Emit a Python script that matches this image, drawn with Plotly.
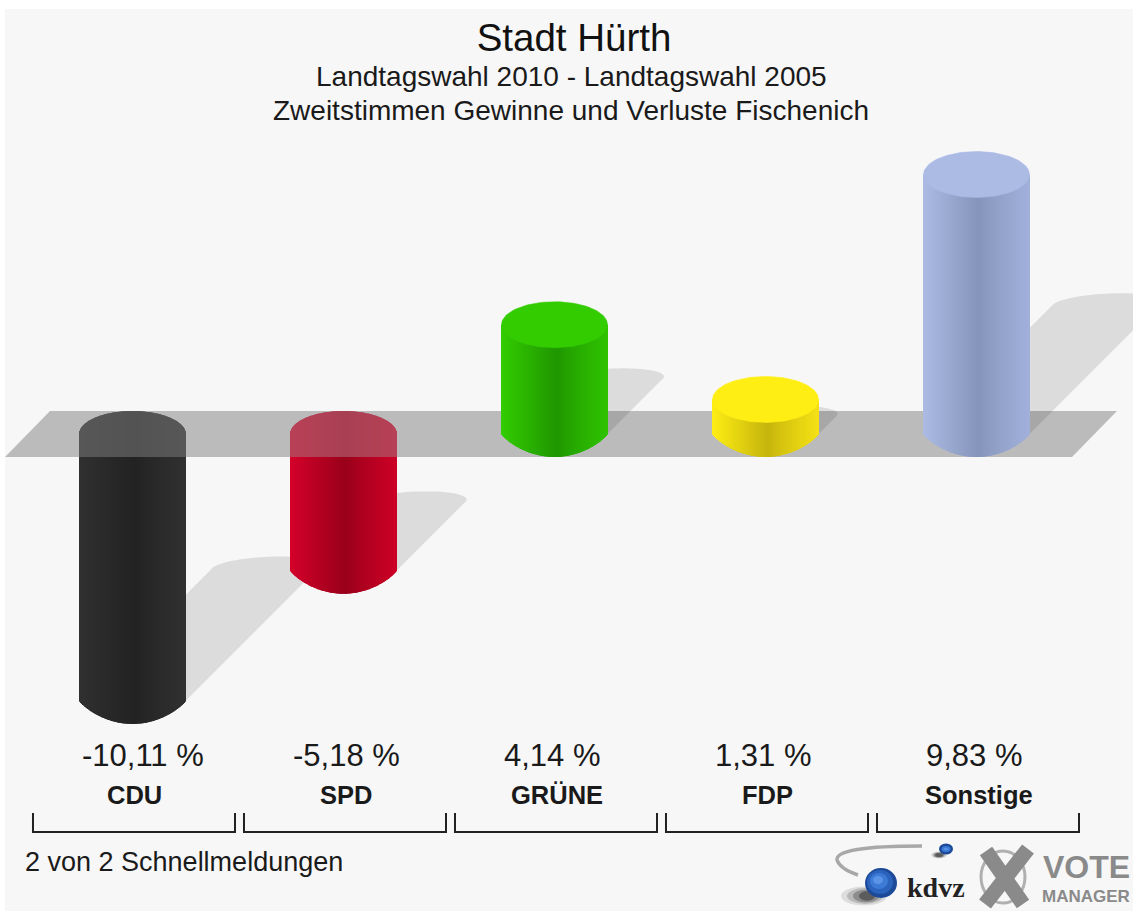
import numpy as np
import plotly.graph_objects as go

# ---- data ----
categories = ["CDU", "SPD", "GRÜNE", "FDP", "Sonstige"]
values = [-10.11, -5.18, 4.14, 1.31, 9.83]
value_labels = ["-10,11 %", "-5,18 %", "4,14 %", "1,31 %", "9,83 %"]
edge_left = ["#303030", "#d4002a", "#33cc00", "#ffee14", "#abbbe4"]
edge_dark = ["#222222", "#98001a", "#1f9600", "#c4b40c", "#8494b9"]
edge_right = ["#303030", "#cc0026", "#2fc200", "#f4e014", "#a0b0da"]
cap_colors = ["#555555", "#b04055", "#33cc00", "#ffee14", "#abbbe4"]

title_text = "Stadt Hürth"
subtitle_1 = "Landtagswahl 2010 - Landtagswahl 2005"
subtitle_2 = "Zweitstimmen Gewinne und Verluste Fischenich"
footer_text = "2 von 2 Schnellmeldungen"

# ---- page geometry ----
W, H = 1133, 911
X0, DX = 132.5, 211.0      # first category pixel, category spacing
Y0, DY = 434.0, 26.4       # zero line pixel, pixels per percent
L, T = 5, 9                # white edge of the picture


def fx(px):
    return (np.asarray(px, dtype=float) - X0) / DX


def fy(py):
    return (Y0 - np.asarray(py, dtype=float)) / DY


RX = 53.0 / DX   # half bar width, category units
RY = 23.0 / DY   # ellipse half height, percent units
STRIPS = 106


def rgb(h):
    return np.array([int(h[i:i + 2], 16) for i in (1, 3, 5)], dtype=float)


def to_hex(c):
    return "#%02x%02x%02x" % tuple(int(round(v)) for v in np.clip(c, 0, 255))


def gradient(u, left, dark, right):
    a, b, c = rgb(left), rgb(dark), rgb(right)
    pivot = 0.06
    if u < pivot:
        t = (u + 1) / (pivot + 1)
        return a + (b - a) * t
    t = (u - pivot) / (1 - pivot)
    return b + (c - b) * t ** 0.8


us = (np.arange(STRIPS) + 0.5) / STRIPS * 2 - 1
arc = np.sqrt(1 - us ** 2)
arc_low = (1 - us ** 2) ** 0.85   # lower rim has slight corners at the sides

fig = go.Figure()

# cylinder bodies: each bar is a row of thin strips on the value axis
for i, (val, cat) in enumerate(zip(values, categories)):
    xs = i + us * RX
    cols = [gradient(u, edge_left[i], edge_dark[i], edge_right[i]) for u in us]
    if val >= 0:
        base = -RY * arc_low
        top = np.full(STRIPS, val)
        fig.add_trace(go.Bar(x=xs, y=top - base, base=base, width=2 * RX / STRIPS,
                             marker=dict(color=[to_hex(c) for c in cols], line=dict(width=0)),
                             name=cat, hoverinfo="skip", showlegend=False))
        t = np.linspace(0, 2 * np.pi, 121)
        fig.add_trace(go.Scatter(x=i + RX * np.cos(t), y=val + RY * np.sin(t), mode="lines",
                                 fill="toself", fillcolor=cap_colors[i],
                                 line=dict(color=cap_colors[i], width=0.5),
                                 hoverinfo="skip", showlegend=False))
    else:
        # part below the band
        base = val - RY * arc_low
        top = np.full(STRIPS, -RY)
        fig.add_trace(go.Bar(x=xs, y=top - base, base=base, width=2 * RX / STRIPS,
                             marker=dict(color=[to_hex(c) for c in cols], line=dict(width=0)),
                             name=cat, hoverinfo="skip", showlegend=False))
        # part seen through the translucent band
        mean = np.mean(cols, axis=0)
        blended = [to_hex(rgb(cap_colors[i]) + (c - mean) * 0.3) for c in cols]
        base2 = np.full(STRIPS, -RY)
        top2 = RY * arc
        fig.add_trace(go.Bar(x=xs, y=top2 - base2, base=base2, width=2 * RX / STRIPS,
                             marker=dict(color=blended, line=dict(width=0)),
                             name=cat, hoverinfo="skip", showlegend=False))

shapes = []

# grey zero band
band = [(fx(5), -RY), (fx(50), RY), (fx(1117), RY), (fx(1072), -RY)]
shapes.append(dict(type="path", layer="below", xref="x", yref="y", line=dict(width=0),
                   fillcolor="#bbbbbb",
                   path="M" + " L".join(f"{a:.4f},{b:.4f}" for a, b in band) + " Z"))

# cast shadows, derived from the values
for i, val in enumerate(values):
    shift_px = abs(val) * DY / 2
    sx = shift_px / DX
    sy = shift_px / DY
    c0y = val if val < 0 else 0.0
    c1x, c1y = i + sx, c0y + sy
    t = np.linspace(np.pi, 0, 40)
    ax = c1x + RX * np.cos(t) + (14 / DX) * np.sin(t)
    ay = c1y + (11 / DY) * np.sin(t)
    pts = [(i - RX, c0y)] + list(zip(ax, ay)) + [(i + RX, c0y)]
    shapes.append(dict(type="path", layer="below", xref="x", yref="y", line=dict(width=0),
                       fillcolor="rgba(0,0,0,0.105)",
                       path="M" + " L".join(f"{a:.4f},{b:.4f}" for a, b in pts) + " Z"))

# brackets under the categories
for i in range(len(categories)):
    xc = float(fx(134)) + i
    hw = 101 / DX
    shapes.append(dict(type="path", layer="above", xref="x", yref="y",
                       line=dict(color="#222222", width=2),
                       path=f"M{xc - hw:.4f},{fy(813):.4f} L{xc - hw:.4f},{fy(832):.4f} "
                            f"L{xc + hw:.4f},{fy(832):.4f} L{xc + hw:.4f},{fy(813):.4f}"))


# ---- logos ----
def ellipse(cx, cy, rx, ry, fill, line=None, lw=0):
    return dict(type="circle", layer="above", xref="x", yref="y",
                x0=fx(cx - rx), x1=fx(cx + rx), y0=fy(cy + ry), y1=fy(cy - ry),
                fillcolor=fill, line=dict(color=line or "rgba(0,0,0,0)", width=lw))


def seg(x0, y0, x1, y1, color, lw):
    return dict(type="line", layer="above", xref="x", yref="y",
                x0=fx(x0), x1=fx(x1), y0=fy(y0), y1=fy(y1),
                line=dict(color=color, width=lw))


shapes.append(dict(type="path", layer="above", xref="x", yref="y", line=dict(color="#a8a8a8", width=3.5),
                   path=f"M{fx(922):.4f},{fy(846):.4f} Q{fx(835):.4f},{fy(846):.4f} "
                        f"{fx(837):.4f},{fy(860):.4f} Q{fx(840):.4f},{fy(869):.4f} {fx(858):.4f},{fy(875):.4f}"))
for k, a in enumerate([0.10, 0.16, 0.24, 0.34]):
    shapes.append(ellipse(864 + k, 896, 23 - 5 * k, 9.5 - 1.6 * k, f"rgba(0,0,0,{a})"))
    shapes.append(ellipse(939, 855, 8 - k * 1.4, 3.5 - k * 0.5, f"rgba(0,0,0,{a})"))
for r, c, dx in [(16, "#1c4a98", 0), (13, "#2a62bc", -1), (9, "#3c7ad6", -2), (5, "#5b94e6", -3)]:
    shapes.append(ellipse(881 + dx, 883 + dx, r, r - 1, c))
for r, c, dx in [(7, "#1c4a98", 0), (4.5, "#3c7ad6", 0), (2.5, "#5b94e6", 0)]:
    shapes.append(ellipse(946, 849, r, r - 1.5, c))
shapes.append(ellipse(1003, 877, 22, 26, "rgba(0,0,0,0)", "#b0b0b0", 3))
shapes.append(seg(986, 851, 1023, 904, "#8a8a8a", 15))
shapes.append(seg(1028, 849, 985, 904, "#8a8a8a", 15))

# ---- text ----
INK = "#1a1a1a"
FONT = "Liberation Sans, Arial, sans-serif"
annotations = []


def text(s, px, py, size, anchor="center", color=INK, bold=False, family=FONT):
    annotations.append(dict(text=f"<b>{s}</b>" if bold else s, x=float(fx(px)), y=float(fy(py)),
                            xref="x", yref="y", xanchor=anchor, yanchor="middle",
                            showarrow=False, font=dict(family=family, size=size, color=color)))


text(subtitle_1, 571, 76, 28)
text(subtitle_2, 571, 110, 28)
for i, (lab, cat) in enumerate(zip(value_labels, categories)):
    text(lab, X0 + DX * i - 53, 755, 31, anchor="left")
    text(cat, X0 + DX * i + 2, 795, 25.5, bold=True)
text(footer_text, 23, 862, 27, anchor="left")
text("kdvz", 936, 887, 28, bold=True, family="Liberation Serif, serif", color="#222222")
text("VOTE", 1086, 867, 32, bold=True, color="#8a8a8a")
text("MANAGER", 1086, 896, 17, bold=True, color="#8a8a8a")

fig.update_layout(
    width=W, height=H, autosize=False,
    margin=dict(l=L, t=T, r=0, b=0, pad=0),
    paper_bgcolor="#ffffff", plot_bgcolor="#f7f7f7",
    barmode="overlay", showlegend=False, hovermode=False,
    title=dict(text=title_text, x=574 / W, xanchor="center", y=1 - 38 / H, yanchor="middle",
               font=dict(family=FONT, size=38.5, color="#111111")),
    xaxis=dict(range=[float(fx(L)), float(fx(W))], visible=False, fixedrange=True),
    yaxis=dict(range=[float(fy(H)), float(fy(T))], visible=False, fixedrange=True),
    shapes=shapes, annotations=annotations,
)

fig.write_html("out.html", config=dict(displayModeBar=False),
               post_script="document.body.style.margin='0';")
